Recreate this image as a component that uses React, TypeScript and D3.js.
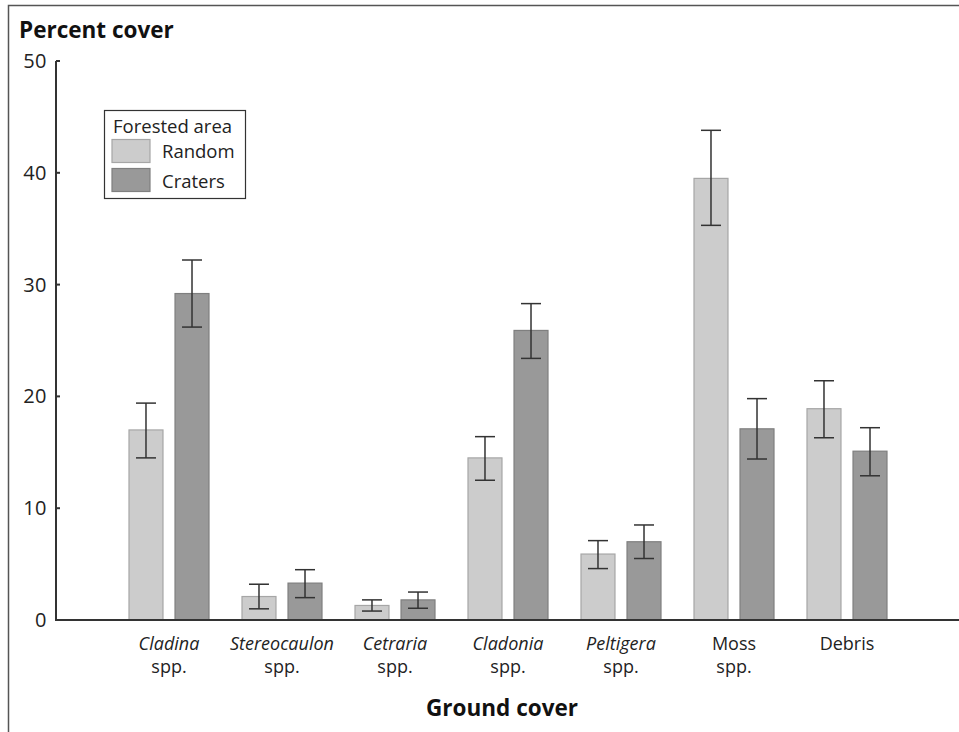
import React, { useEffect, useRef } from "react";
import * as d3 from "d3";

// ground cover categories
const categories = ["Cladina", "Stereocaulon", "Cetraria", "Cladonia", "Peltigera", "Moss", "Debris"];
const italicName = [true, true, true, true, true, false, false];
const secondLine = ["spp.", "spp.", "spp.", "spp.", "spp.", "spp.", ""];

const series = ["Random", "Craters"];

// mean percent cover
const randomMean = [17.0, 2.1, 1.3, 14.5, 5.9, 39.5, 18.9];
const cratersMean = [29.2, 3.3, 1.8, 25.9, 7.0, 17.1, 15.1];
// error bar ends
const randomLow = [14.5, 1.0, 0.8, 12.5, 4.6, 35.3, 16.3];
const randomHigh = [19.4, 3.2, 1.8, 16.4, 7.1, 43.8, 21.4];
const cratersLow = [26.2, 2.0, 1.05, 23.4, 5.5, 14.4, 12.9];
const cratersHigh = [32.2, 4.5, 2.5, 28.3, 8.5, 19.8, 17.2];

const yTicks = [0, 10, 20, 30, 40, 50];

const fills = { Random: "#cccccc", Craters: "#999999" };
const strokes = { Random: "#a6a6a6", Craters: "#7f7f7f" };

const font = "'Open Sans', 'Noto Sans', sans-serif";

const App = () => {
  const svgRef = useRef<SVGSVGElement>(null);

  useEffect(() => {
    const width = 959;
    const height = 732;
    const left = 56;
    const bottom = 620;
    const top = 61;

    const svg = d3.select(svgRef.current);
    svg.selectAll("*").remove();
    svg.attr("width", width).attr("height", height);

    // frame
    svg.append("path")
      .attr("d", `M8.5,${height} V5.5 H${width}`)
      .attr("fill", "none")
      .attr("stroke", "#555")
      .attr("stroke-width", 1.5);

    const x = d3.scalePoint<string>().domain(categories).range([left, width + 1]).padding(1);
    const xs = d3.scaleBand<string>().domain(series).range([-40.5, 40.5]).paddingInner(0.24);
    const y = d3.scaleLinear().domain([0, 50]).range([bottom, top]);

    const rows = categories.flatMap((c, i) => [
      { cat: c, s: "Random", v: randomMean[i], lo: randomLow[i], hi: randomHigh[i] },
      { cat: c, s: "Craters", v: cratersMean[i], lo: cratersLow[i], hi: cratersHigh[i] },
    ]);

    // bars
    svg.append("g")
      .selectAll("rect")
      .data(rows)
      .enter()
      .append("rect")
      .attr("x", (d) => x(d.cat)! + xs(d.s)! + 0.5)
      .attr("width", xs.bandwidth() - 1)
      .attr("y", (d) => y(d.v))
      .attr("height", (d) => bottom - y(d.v))
      .attr("fill", (d) => fills[d.s])
      .attr("stroke", (d) => strokes[d.s])
      .attr("stroke-width", 1.2);

    // error bars
    const eb = svg.append("g").attr("stroke", "#333").attr("stroke-width", 1.5).attr("fill", "none");
    rows.forEach((d) => {
      const cx = x(d.cat)! + xs(d.s)! + xs.bandwidth() / 2;
      eb.append("line").attr("x1", cx).attr("x2", cx).attr("y1", y(d.hi)).attr("y2", y(d.lo));
      eb.append("line").attr("x1", cx - 10).attr("x2", cx + 10).attr("y1", y(d.hi)).attr("y2", y(d.hi));
      eb.append("line").attr("x1", cx - 10).attr("x2", cx + 10).attr("y1", y(d.lo)).attr("y2", y(d.lo));
    });

    // axes
    svg.append("line")
      .attr("x1", left).attr("x2", left).attr("y1", top).attr("y2", bottom + 1)
      .attr("stroke", "#333").attr("stroke-width", 2);
    svg.append("line")
      .attr("x1", left - 1).attr("x2", width).attr("y1", bottom).attr("y2", bottom)
      .attr("stroke", "#333").attr("stroke-width", 2);

    const yt = svg.append("g");
    yTicks.forEach((t) => {
      if (t > 0) {
        yt.append("line")
          .attr("x1", left).attr("x2", left + 4).attr("y1", y(t)).attr("y2", y(t))
          .attr("stroke", "#333").attr("stroke-width", 2);
      }
      yt.append("text")
        .attr("x", 47)
        .attr("y", y(t) + 7)
        .attr("text-anchor", "end")
        .attr("font-family", font)
        .attr("font-size", 20)
        .attr("letter-spacing", 0.5)
        .attr("fill", "#222")
        .text(t);
    });

    // category labels
    const xl = svg.append("g").attr("font-family", font).attr("font-size", 18).attr("fill", "#222").attr("text-anchor", "middle");
    categories.forEach((c, i) => {
      xl.append("text")
        .attr("x", x(c)!)
        .attr("y", 650)
        .attr("font-style", italicName[i] ? "italic" : "normal")
        .text(c);
      if (secondLine[i]) {
        xl.append("text").attr("x", x(c)!).attr("y", 673).text(secondLine[i]);
      }
    });

    // titles
    svg.append("text")
      .attr("x", 19).attr("y", 38)
      .attr("font-family", font).attr("font-size", 22.5).attr("font-weight", "bold").attr("fill", "#111")
      .text("Percent cover");
    svg.append("text")
      .attr("x", 502).attr("y", 716).attr("text-anchor", "middle")
      .attr("font-family", font).attr("font-size", 22.5).attr("font-weight", "bold").attr("fill", "#111")
      .text("Ground cover");

    // legend
    const lg = svg.append("g").attr("font-family", font).attr("font-size", 18.5).attr("fill", "#222");
    lg.append("rect")
      .attr("x", 104.5).attr("y", 110.5).attr("width", 141).attr("height", 88)
      .attr("fill", "white").attr("stroke", "#333").attr("stroke-width", 1.2);
    lg.append("text").attr("x", 113).attr("y", 133).text("Forested area");
    series.forEach((s, i) => {
      lg.append("rect")
        .attr("x", 112).attr("y", 139.5 + i * 29).attr("width", 38).attr("height", 23)
        .attr("fill", fills[s]).attr("stroke", strokes[s]).attr("stroke-width", 1.2);
      lg.append("text").attr("x", 162).attr("y", 158 + i * 30).text(s);
    });
  }, []);

  return <svg ref={svgRef} style={{ position: "absolute", left: 0, top: 0 }} />;
};

export default App;
